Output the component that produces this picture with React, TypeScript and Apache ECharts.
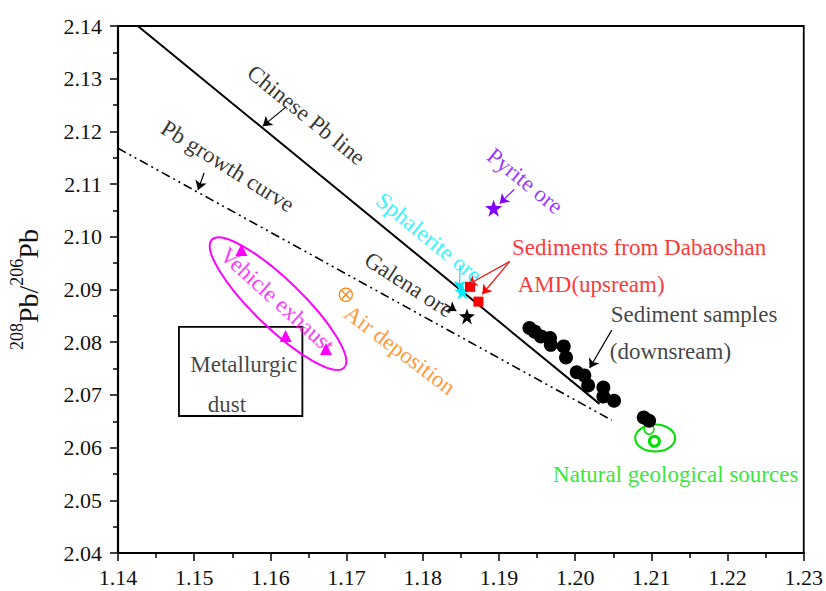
import React, { useEffect, useRef } from 'react';
import * as echarts from 'echarts';

// ---- data ----
const chineseLineX = [1.1426, 1.2032];
const chineseLineY = [2.14, 2.0683];
const growthCurveX = [1.14, 1.2048];
const growthCurveY = [2.1168, 2.0652];

const sedimentX = [1.194, 1.1947, 1.1955, 1.1967, 1.1968, 1.1985, 1.1988, 1.2002, 1.2012, 1.2017, 1.2037, 1.2037, 1.2051, 1.209, 1.2097];
const sedimentY = [2.0827, 2.082, 2.0811, 2.0808, 2.0795, 2.0792, 2.0771, 2.0743, 2.0737, 2.0718, 2.0714, 2.0697, 2.0689, 2.0657, 2.0651];

const vehicleX = [1.1562, 1.162, 1.1673];
const vehicleY = [2.0975, 2.0812, 2.0787];

const amdX = [1.1862, 1.1873];
const amdY = [2.0905, 2.0877];

const naturalX = [1.2097, 1.2104];
const naturalY = [2.0635, 2.0612];

const airDepositionX = [1.1699];
const airDepositionY = [2.089];
const sphaleriteX = [1.1852];
const sphaleriteY = [2.0896];
const galenaX = [1.1858];
const galenaY = [2.0849];
const pyriteX = [1.1893];
const pyriteY = [2.1054];

// annotation geometry (data coordinates)
const metallurgicBox = [[1.148, 2.0829], [1.1642, 2.066]];
const vehicleEllipseCenter = [1.161, 2.0873];
const naturalEllipseCenter = [1.2105, 2.0618];

const arrowFrom = [[1.1621, 2.1247], [1.1513, 2.1121], [1.192, 2.109], [1.1849, 2.0947], [1.1914, 2.0953], [1.1914, 2.0953], [1.1829, 2.0873], [1.2048, 2.0823]];
const arrowTo = [[1.159, 2.121], [1.1505, 2.1089], [1.1901, 2.1063], [1.1848, 2.0899], [1.1859, 2.0909], [1.1878, 2.0891], [1.1844, 2.0859], [1.2019, 2.0751]];
const arrowColors = ['#000', '#000', '#7f00ff', '#00e5ff', '#ff0000', '#ff0000', '#000', '#000'];

const labelTexts = ['Chinese Pb line', 'Pb growth curve', 'Sphalerite ore', 'Galena ore', 'Pyrite ore', 'Vehicle exhaust', 'Air deposition', 'Sediments from Dabaoshan', 'AMD(upsream)', 'Sediment samples', '(downsream)', 'Natural geological sources', 'Metallurgic', 'dust'];
const labelX = [1.1647, 1.1544, 1.1808, 1.1782, 1.1934, 1.1609, 1.177, 1.2084, 1.2021, 1.2156, 1.2125, 1.2132, 1.1565, 1.1543];
const labelY = [2.1231, 2.1134, 2.0998, 2.091, 2.1106, 2.088, 2.0785, 2.0979, 2.0909, 2.0852, 2.0782, 2.0549, 2.0757, 2.0681];
const labelRotate = [-39, -32, -39, -33, -39, -42, -37, 0, 0, 0, 0, 0, 0, 0];
const labelColors = ['#000', '#000', '#00f0ff', '#000', '#7f00ff', '#ff00ff', '#ff8000', '#ff0000', '#ff0000', '#111', '#111', '#00e000', '#111', '#111'];

const FONT = "'Liberation Serif', 'Times New Roman', serif";
const STAR = 'path://M50,0 L61.8,35.4 L100,38.2 L69.1,61.8 L80.9,100 L50,76.4 L19.1,100 L30.9,61.8 L0,38.2 L38.2,35.4 Z';
const CROSS_X = 'path://M0,0 L10,10 M10,0 L0,10';

const zip = (xs: number[], ys: number[]) => xs.map((x, i) => [x, ys[i]]);

export default function App() {
  const ref = useRef<HTMLDivElement>(null);
  useEffect(() => {
    if (!ref.current) return;
    const chart = echarts.init(ref.current, undefined, { renderer: 'svg' });
    const axisFont = { fontFamily: FONT, fontSize: 22, color: '#111' };
    const sc = (data: number[][], symbol: string, size: number, itemStyle: any, z = 4) => ({
      type: 'scatter', data, symbol, symbolSize: size, itemStyle: { opacity: 1, ...itemStyle }, z, silent: true,
    });
    const option: any = {
      animation: false,
      grid: { left: 118, right: 19, top: 26, bottom: 38, show: true, borderColor: '#000', borderWidth: 1.8, backgroundColor: 'transparent' },
      xAxis: {
        type: 'value', min: 1.14, max: 1.23, interval: 0.01,
        axisLine: { lineStyle: { color: '#000', width: 2 } },
        axisTick: { inside: false, length: 8, lineStyle: { color: '#000', width: 1.5 } },
        minorTick: { show: true, splitNumber: 2, length: 5, lineStyle: { color: '#000', width: 1.5 } },
        splitLine: { show: false },
        axisLabel: { ...axisFont, margin: 13, formatter: (v: number) => v.toFixed(2) },
      },
      yAxis: {
        type: 'value', min: 2.04, max: 2.14, interval: 0.01,
        axisLine: { lineStyle: { color: '#000', width: 2.2 } },
        axisTick: { inside: false, length: 8, lineStyle: { color: '#000', width: 1.5 } },
        minorTick: { show: true, splitNumber: 2, length: 5, lineStyle: { color: '#000', width: 1.5 } },
        splitLine: { show: false },
        axisLabel: { ...axisFont, margin: 16, formatter: (v: number) => v.toFixed(2) },
        name: '{s|208}{b|Pb/}{s|206}{b|Pb}',
        nameLocation: 'middle', nameRotate: 90, nameGap: 70,
        nameTextStyle: {
          rich: {
            s: { fontFamily: FONT, fontSize: 18, color: '#111', verticalAlign: 'top', lineHeight: 18 },
            b: { fontFamily: FONT, fontSize: 28, color: '#111', lineHeight: 40 },
          },
        },
      },
      series: [
        { type: 'line', data: zip(chineseLineX, chineseLineY), symbol: 'none', lineStyle: { color: '#000', width: 2 }, z: 2 },
        { type: 'line', data: zip(growthCurveX, growthCurveY), symbol: 'none', lineStyle: { color: '#000', width: 1.6, type: [9, 4, 2, 4, 2, 4] }, z: 2 },
        {
          type: 'custom', z: 1, silent: true,
          data: [[0]],
          renderItem: (params: any, api: any) => {
            const p1 = api.coord(metallurgicBox[0]);
            const p2 = api.coord(metallurgicBox[1]);
            const c1 = api.coord(vehicleEllipseCenter);
            const c2 = api.coord(naturalEllipseCenter);
            return {
              type: 'group',
              children: [
                { type: 'rect', shape: { x: p1[0], y: p1[1], width: p2[0] - p1[0], height: p2[1] - p1[1] }, style: { fill: 'none', stroke: '#000', lineWidth: 1.8 } },
                { type: 'ellipse', x: c1[0], y: c1[1], rotation: -44 * Math.PI / 180, shape: { cx: 0, cy: 0, rx: 92, ry: 24 }, style: { fill: 'none', stroke: '#ff00ff', lineWidth: 2 } },
                { type: 'ellipse', shape: { cx: c2[0], cy: c2[1], rx: 20, ry: 13.5 }, style: { fill: 'none', stroke: '#00e000', lineWidth: 2 } },
              ],
            };
          },
        },
        sc(zip(naturalX.slice(0, 1), naturalY.slice(0, 1)), 'circle', 10, { color: '#fff', borderColor: '#00e000', borderWidth: 1.5 }, 3),
        sc(zip(naturalX.slice(1), naturalY.slice(1)), 'circle', 10, { color: '#fff', borderColor: '#00e000', borderWidth: 3 }, 3),
        sc(zip(sedimentX, sedimentY), 'circle', 14, { color: '#000' }),
        sc(zip(vehicleX, vehicleY), 'triangle', 12, { color: '#ff00ff' }),
        sc(zip(airDepositionX, airDepositionY), 'circle', 13, { color: 'none', borderColor: '#ff8000', borderWidth: 1.2 }),
        sc(zip(airDepositionX, airDepositionY), CROSS_X, 8, { color: 'none', borderColor: '#ff8000', borderWidth: 1.2 }),
        sc(zip(sphaleriteX, sphaleriteY), STAR, 16, { color: '#00f0ff' }),
        sc(zip(amdX, amdY), 'rect', 10, { color: '#ff0000' }, 5),
        sc(zip(galenaX, galenaY), STAR, 16, { color: '#000' }),
        sc(zip(pyriteX, pyriteY), STAR, 17, { color: '#7f00ff' }),
        {
          type: 'lines', coordinateSystem: 'cartesian2d', z: 6, silent: true,
          symbol: ['none', 'arrow'], symbolSize: 9,
          lineStyle: { width: 1.2, opacity: 1 },
          data: arrowFrom.map((f, i) => ({ coords: [f, arrowTo[i]], lineStyle: { color: arrowColors[i] } })),
        },
        {
          type: 'scatter', z: 7, symbolSize: 0, silent: true,
          data: labelTexts.map((t, i) => ({
            value: [labelX[i], labelY[i]],
            label: {
              show: true, position: 'inside', formatter: t, rotate: labelRotate[i],
              color: labelColors[i], fontFamily: FONT, fontSize: 23, align: 'center', verticalAlign: 'middle',
            },
          })),
        },
      ],
    };
    chart.setOption(option);
    return () => chart.dispose();
  }, []);
  return <div ref={ref} style={{ width: 826, height: 591, position: 'absolute', left: 0, top: 0, background: '#fff' }} />;
}
